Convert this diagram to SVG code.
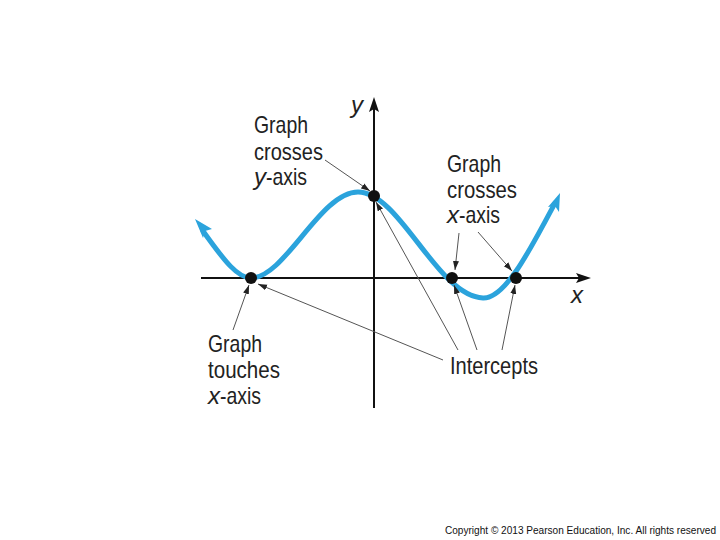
<svg xmlns="http://www.w3.org/2000/svg" width="720" height="540" viewBox="0 0 720 540">
<style>
.lbl{font-family:"Liberation Sans Narrow","Liberation Sans",Arial,sans-serif;font-size:24px;fill:#222;}
.it{font-style:italic;}
.axis{stroke:#111;stroke-width:2;fill:none;}
.con{stroke:#555;stroke-width:1;fill:none;marker-end:url(#sa);}
.curve{stroke:#2ba3dc;stroke-width:5;fill:none;stroke-linecap:round;}
.pt{fill:#111;}
.copy{font-family:"Liberation Sans",Arial,sans-serif;font-size:10px;fill:#111;}
</style>
<defs>
<marker id="sa" markerWidth="10" markerHeight="8" refX="9" refY="4" orient="auto" markerUnits="userSpaceOnUse">
<path d="M0,1 L9,4 L0,7 Z" fill="#222"/>
</marker>
</defs>
<rect width="720" height="540" fill="#fff"/>
<g id="axes">
<line class="axis" x1="201" y1="278" x2="580" y2="278"/>
<path d="M591,278 L576,273 L579,278 L576,283 Z" fill="#111"/>
<line class="axis" x1="374" y1="408" x2="374" y2="108"/>
<path d="M374,97 L369,112 L374,109 L379,112 Z" fill="#111"/>
<text class="lbl it" x="351" y="113" font-size="22">y</text>
<text class="lbl it" x="571" y="303" font-size="22">x</text>
</g>
<g id="curve">
<path class="curve" d="M203,231 C225,262 238,278 251,278 C285,278 320,192 358,192 C400,192 437,296 483,298 C505,299 530,250 555,203"/>
<path d="M195,219 L212,229 L205,231 L203,238 Z" fill="#2ba3dc"/>
<path d="M560,193 L559,212 L555,206 L548,207 Z" fill="#2ba3dc"/>
</g>
<g id="points">
<circle class="pt" cx="251" cy="278" r="6"/>
<circle class="pt" cx="374" cy="196" r="6"/>
<circle class="pt" cx="452" cy="278" r="6"/>
<circle class="pt" cx="516" cy="278" r="6"/>
</g>
<g id="connectors">
<line class="con" x1="325" y1="160" x2="370" y2="191"/>
<line class="con" x1="459" y1="233" x2="455" y2="270"/>
<line class="con" x1="478" y1="232" x2="512" y2="271"/>
<line class="con" x1="233" y1="330" x2="249" y2="285"/>
<line class="con" x1="443" y1="360" x2="258" y2="284"/>
<line class="con" x1="458" y1="350" x2="376" y2="202"/>
<line class="con" x1="477" y1="350" x2="454" y2="285"/>
<line class="con" x1="502" y1="350" x2="515" y2="285"/>
</g>
<g id="label-yaxis">
<text class="lbl" x="254" y="133" textLength="54" lengthAdjust="spacingAndGlyphs">Graph</text>
<text class="lbl" x="254" y="160" textLength="69" lengthAdjust="spacingAndGlyphs">crosses</text>
<text class="lbl it" x="254" y="185">y</text>
<text class="lbl" x="266" y="185" textLength="41" lengthAdjust="spacingAndGlyphs">-axis</text>
</g>
<g id="label-xaxis">
<text class="lbl" x="447" y="172" textLength="54" lengthAdjust="spacingAndGlyphs">Graph</text>
<text class="lbl" x="447" y="198" textLength="70" lengthAdjust="spacingAndGlyphs">crosses</text>
<text class="lbl it" x="447" y="223">x</text>
<text class="lbl" x="459" y="223" textLength="41" lengthAdjust="spacingAndGlyphs">-axis</text>
</g>
<g id="label-touches">
<text class="lbl" x="208" y="352" textLength="54" lengthAdjust="spacingAndGlyphs">Graph</text>
<text class="lbl" x="208" y="378" textLength="72" lengthAdjust="spacingAndGlyphs">touches</text>
<text class="lbl it" x="208" y="404">x</text>
<text class="lbl" x="220" y="404" textLength="41" lengthAdjust="spacingAndGlyphs">-axis</text>
</g>
<g id="label-intercepts">
<text class="lbl" x="450" y="374" textLength="88" lengthAdjust="spacingAndGlyphs">Intercepts</text>
</g>
<text class="copy" x="445" y="534" textLength="271" lengthAdjust="spacingAndGlyphs">Copyright © 2013 Pearson Education, Inc. All rights reserved</text>
</svg>
